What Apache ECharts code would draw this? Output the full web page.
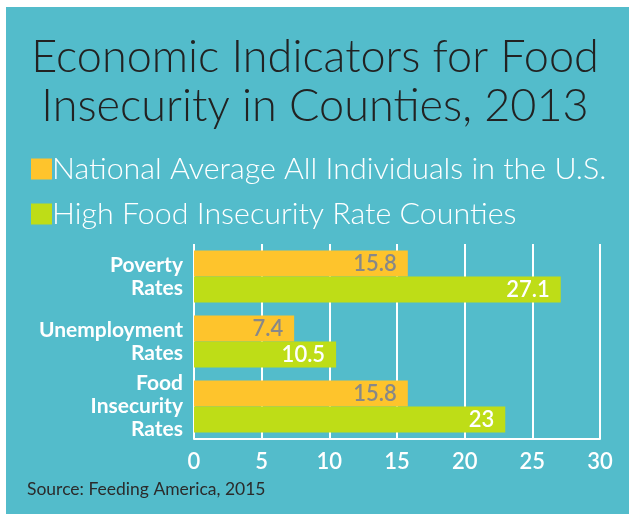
<!DOCTYPE html>
<html>
<head>
<meta charset="utf-8">
<script src="https://cdn.jsdelivr.net/npm/echarts@6/dist/echarts.min.js"></script>
<style>
  html, body { margin: 0; padding: 0; background: #fff; }
  .panel { position: absolute; left: 6px; top: 7px; width: 623px; height: 507px; background: #53bccb; }
  #main { position: absolute; left: 0; top: 0; width: 631px; height: 514px; }
</style>
</head>
<body>
<div class="panel"></div>
<div id="main"></div>
<script>
// data
var categories = ["Poverty\nRates", "Unemployment\nRates", "Food\nInsecurity\nRates"];
var nationalAvg = [15.8, 7.4, 15.8];
var highInsecurity = [27.1, 10.5, 23];
// \u200c keeps Lato from joining "ti" into a ligature
var seriesNames = ["National Average All Individuals in the U.S.", "High Food Insecurity Rate Coun\u200cties"];

var font = "Lato";
var chart = echarts.init(document.getElementById("main"));

chart.setOption({
  backgroundColor: "transparent",
  textStyle: { fontFamily: font },
  legend: {
    orient: "vertical",
    left: 26,
    top: 149,
    icon: "rect",
    itemWidth: 21,
    itemHeight: 21,
    itemGap: 15,
    selectedMode: false,
    textStyle: {
      fontFamily: font,
      fontSize: 30.4,
      fontWeight: 300,
      color: "#fff",
      padding: [0, 0, 0, -5]
    },
    data: seriesNames
  },
  grid: { left: 194, right: 31, top: 244, bottom: 75, containLabel: false },
  xAxis: {
    type: "value",
    min: 0,
    max: 30,
    interval: 5,
    axisLine: { show: true, lineStyle: { color: "#fff", width: 2 } },
    axisTick: { show: false },
    splitLine: { show: true, lineStyle: { color: "#fff", width: 2 } },
    axisLabel: {
      color: "#fff",
      fontFamily: font,
      fontSize: 22,
      fontWeight: 600,
      margin: 12
    }
  },
  yAxis: {
    type: "category",
    inverse: true,
    data: categories,
    axisLine: { show: false },
    axisTick: { show: false },
    axisLabel: {
      color: "#fff",
      fontFamily: font,
      fontSize: 21,
      fontWeight: "bold",
      lineHeight: 23,
      align: "right",
      margin: 11,
      padding: [3, 0, 0, 0]
    }
  },
  series: [
    {
      name: seriesNames[0],
      type: "bar",
      data: nationalAvg,
      barWidth: 26,
      barGap: 0,
      itemStyle: { color: "#fec42c" },
      label: {
        show: true,
        position: "insideRight",
        distance: 11,
        color: "#888",
        fontFamily: font,
        fontSize: 22,
        fontWeight: 600
      }
    },
    {
      name: seriesNames[1],
      type: "bar",
      data: highInsecurity,
      barWidth: 26,
      barGap: 0,
      itemStyle: { color: "#bedd17" },
      label: {
        show: true,
        position: "insideRight",
        distance: 11,
        color: "#fff",
        fontFamily: font,
        fontSize: 22,
        fontWeight: 600
      }
    }
  ],
  graphic: [
    {
      type: "text",
      x: 315,
      y: 33,
      style: {
        text: "Economic Indicators for Food\nInsecurity in Coun\u200cties, 2013",
        align: "center",
        verticalAlign: "top",
        fontFamily: font,
        fontSize: 45,
        fontWeight: 300,
        lineHeight: 49,
        fill: "#222"
      }
    },
    {
      type: "text",
      left: 27,
      top: 480,
      style: {
        text: "Source: Feeding America, 2015",
        fontFamily: font,
        fontSize: 17.5,
        fill: "#2b2b2b"
      }
    }
  ]
});
</script>
</body>
</html>
